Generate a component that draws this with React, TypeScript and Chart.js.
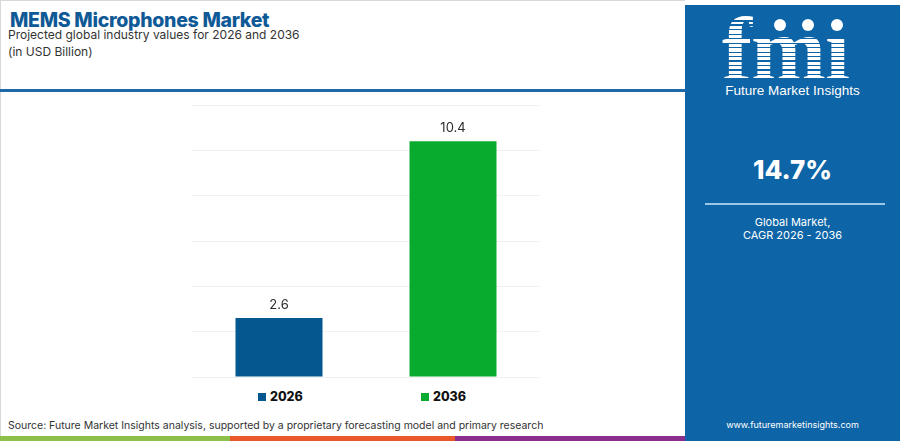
import React, { useEffect, useRef } from "react";
import { Chart, registerables } from "chart.js";

Chart.register(...registerables);

const categories = ["2026", "2036"];
const values = [2.6, 10.4];
const barColors = ["#05588f", "#08ab2e"];
const yTicks = [0, 2, 4, 6, 8, 10, 12];
const cagr = "14.7%";

const PANEL = "#0d64a6";
const FONT = "'Inter', 'Open Sans', sans-serif";

export default function App() {
  const ref = useRef<HTMLCanvasElement | null>(null);

  useEffect(() => {
    document.body.style.margin = "0";
    const labelPlugin = {
      id: "valueLabels",
      afterDatasetsDraw(chart: any) {
        const ctx = chart.ctx;
        const meta = chart.getDatasetMeta(0);
        ctx.save();
        ctx.fillStyle = "#2b2b2b";
        ctx.font = `400 13px ${FONT}`;
        ctx.textAlign = "center";
        ctx.textBaseline = "middle";
        meta.data.forEach((el: any, i: number) => {
          ctx.fillText(String(values[i]), el.x, el.y - 13);
        });
        ctx.restore();
      },
    };
    const chart = new Chart(ref.current as HTMLCanvasElement, {
      type: "bar",
      data: {
        labels: categories,
        datasets: [
          {
            data: values,
            backgroundColor: barColors,
            borderWidth: 0,
            barPercentage: 0.5,
            categoryPercentage: 1,
          },
        ],
      },
      options: {
        animation: false,
        responsive: false,
        maintainAspectRatio: false,
        layout: { padding: { left: 12, right: 20, top: 10, bottom: 8 } },
        plugins: { legend: { display: false }, tooltip: { enabled: false } },
        scales: {
          x: { display: false },
          y: {
            min: yTicks[0],
            max: yTicks[yTicks.length - 1],
            afterBuildTicks: (axis: any) => {
              axis.ticks = yTicks.map((v) => ({ value: v }));
            },
            ticks: { display: false },
            border: { display: false },
            grid: { color: "#f1f1f1", lineWidth: 1, drawTicks: false },
          },
        },
      },
      plugins: [labelPlugin],
    });
    return () => chart.destroy();
  }, []);

  return (
    <div
      style={{
        position: "fixed",
        left: 0,
        top: 0,
        width: 900,
        height: 441,
        background: "#fff",
        overflow: "hidden",
        fontFamily: FONT,
      }}
    >
      {/* thin border */}
      <div style={{ position: "absolute", left: 0, top: 0, width: 685, height: 1, background: "#d8d8d8" }} />
      <div style={{ position: "absolute", left: 0, top: 0, width: 1, height: 441, background: "#d8d8d8" }} />

      <div style={{ position: "absolute", left: 10, top: 8, fontSize: 19.5, fontWeight: 800, color: "#0f5a96", letterSpacing: -0.3, whiteSpace: "nowrap" }}>
        MEMS Microphones Market
      </div>
      <div style={{ position: "absolute", left: 8, top: 26, fontSize: 12, color: "#333", whiteSpace: "nowrap", lineHeight: "17px" }}>
        Projected global industry values for 2026 and 2036
        <br />
        (in USD Billion)
      </div>
      <div style={{ position: "absolute", left: 0, top: 89, width: 685, height: 3, background: "#1e6aa8" }} />

      <canvas ref={ref} width={380} height={290} style={{ position: "absolute", left: 180, top: 95, width: 380, height: 290 }} />

      {categories.map((c, i) => (
        <div
          key={c}
          style={{
            position: "absolute",
            left: i === 0 ? 258 : 421,
            top: 389,
            display: "flex",
            alignItems: "center",
            fontSize: 12.5,
            fontWeight: 800,
            color: "#111",
          }}
        >
          <span style={{ display: "inline-block", width: 8, height: 8, background: barColors[i], marginRight: 4 }} />
          {c}
        </div>
      ))}

      <div style={{ position: "absolute", left: 8, top: 419, fontSize: 10.5, color: "#333", whiteSpace: "nowrap" }}>
        Source: Future Market Insights analysis, supported by a proprietary forecasting model and primary research
      </div>

      <div style={{ position: "absolute", left: 0, top: 436, width: 230, height: 5, background: "#8cc04a" }} />
      <div style={{ position: "absolute", left: 230, top: 436, width: 225, height: 5, background: "#e8582a" }} />
      <div style={{ position: "absolute", left: 455, top: 436, width: 230, height: 5, background: "#8a2d8c" }} />

      {/* right panel */}
      <div style={{ position: "absolute", left: 685, top: 5, width: 215, height: 436, background: PANEL, color: "#fff" }}>
        <div style={{ position: "absolute", left: 37, top: 0, fontFamily: "'Liberation Serif', serif", fontWeight: 700, fontSize: 90, lineHeight: "90px", letterSpacing: -1 }}>
          fmı
        </div>
        <div
          style={{
            position: "absolute",
            left: 30,
            top: 12,
            width: 140,
            height: 68,
            background: `repeating-linear-gradient(to bottom, transparent 0px, transparent 3px, ${PANEL} 3px, ${PANEL} 4.5px)`,
          }}
        />
        {[95, 123, 152].map((x) => (
          <div key={x} style={{ position: "absolute", left: x - 6, top: 14, width: 12, height: 12, borderRadius: 6, background: "#fff" }} />
        ))}
        <div style={{ position: "absolute", left: 0, width: 215, top: 78, textAlign: "center", fontSize: 13.5, fontFamily: "'Liberation Sans Narrow', 'Liberation Sans', sans-serif", whiteSpace: "nowrap" }}>
          Future Market Insights
        </div>
        <div style={{ position: "absolute", left: 0, width: 215, top: 149, textAlign: "center", fontSize: 26, fontWeight: 800 }}>
          {cagr}
        </div>
        <div style={{ position: "absolute", left: 20, top: 198, width: 180, height: 1.5, background: "#9cc6e8" }} />
        <div style={{ position: "absolute", left: 0, width: 215, top: 211, textAlign: "center", fontSize: 11, lineHeight: "13px" }}>
          Global Market,
          <br />
          CAGR 2026 - 2036
        </div>
        <div style={{ position: "absolute", left: 0, width: 215, top: 414, textAlign: "center", fontSize: 9 }}>
          www.futuremarketinsights.com
        </div>
      </div>
    </div>
  );
}
